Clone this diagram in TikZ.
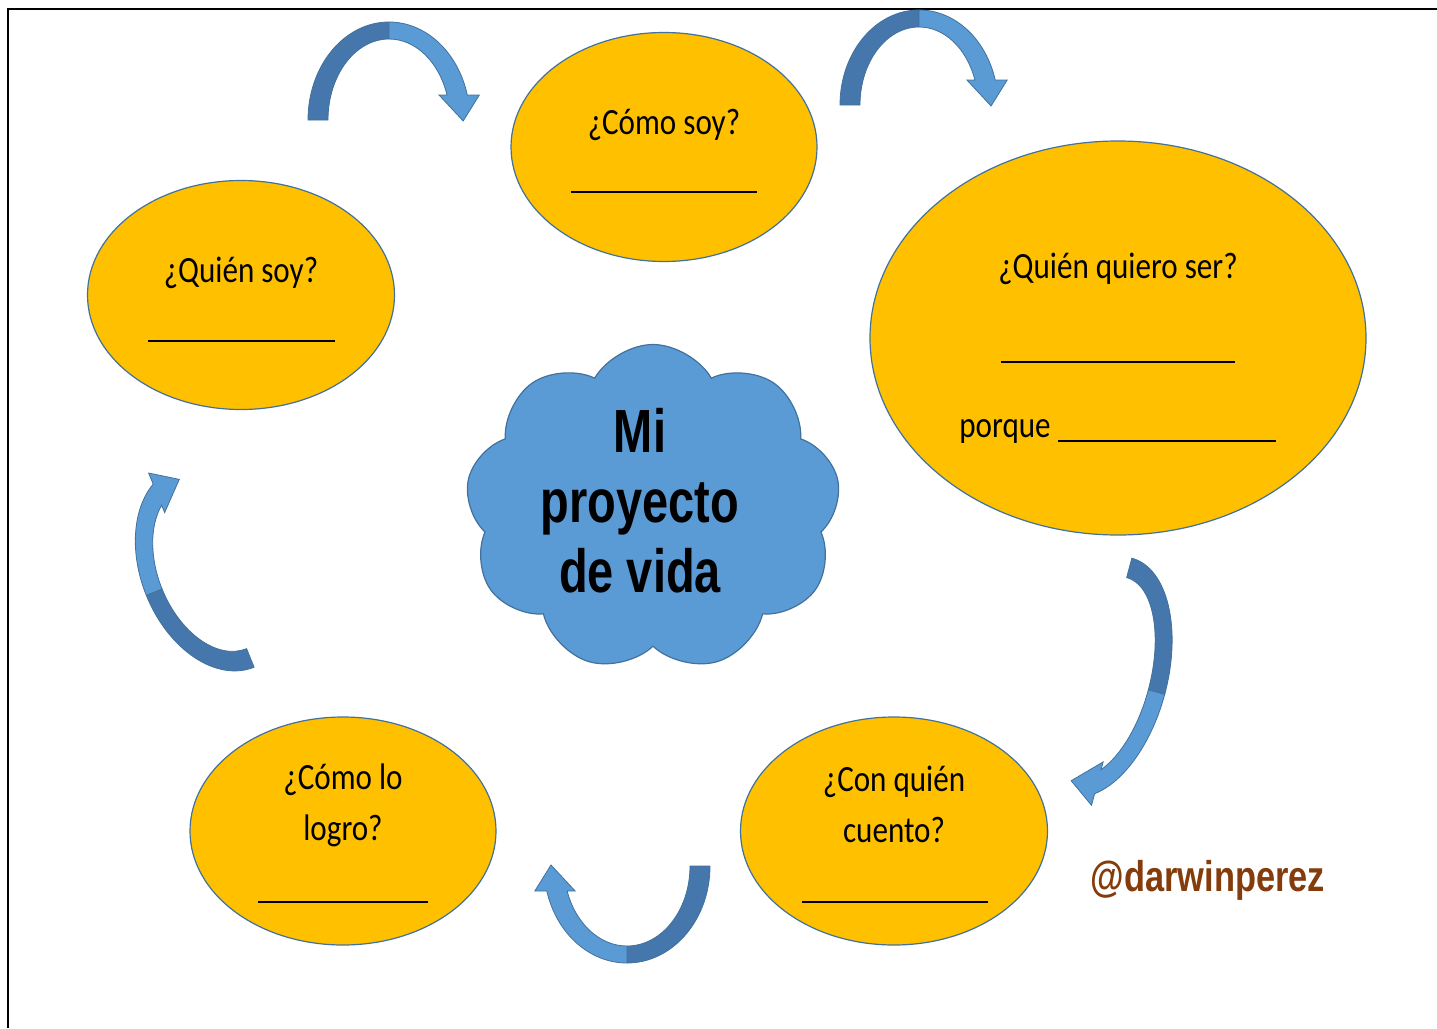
\documentclass[tikz,border=0pt]{standalone}
\usepackage{fontspec}
\usetikzlibrary{shapes,positioning}
\newfontfamily\qfont{Carlito}
\newfontfamily\tfont{Liberation Sans}
\definecolor{gold}{HTML}{FFC000}
\definecolor{skyblue}{HTML}{5B9BD5}
\definecolor{deepblue}{HTML}{41719C}
\definecolor{arrdark}{HTML}{4677AC}
\definecolor{rust}{HTML}{843C0C}
\tikzset{bubble/.style={ellipse,   fill=gold,    draw=deepblue, line width=1.2pt, inner sep=0pt}}
\tikzset{cloudy/.style={cloud,     fill=skyblue, draw=deepblue, line width=1.2pt, inner sep=0pt, cloud puffs=9, cloud puff arc=120, aspect=1.15}}
\tikzset{question/.style={font=\qfont\fontsize{37}{51}\selectfont, align=center, xscale=0.84, transform shape, inner sep=0pt}}
\tikzset{title/.style={font=\tfont\bfseries\fontsize{61}{70}\selectfont, align=center, xscale=0.77, transform shape, inner sep=0pt}}
\tikzset{tag/.style={font=\tfont\bfseries\fontsize{43}{50}\selectfont, text=rust, xscale=0.8, transform shape, inner sep=0pt}}
\tikzset{blank/.style={line width=2.6pt}}
\tikzset{arrlight/.style={fill=skyblue, draw=deepblue, line width=0.8pt}}
\tikzset{arrback/.style={fill=arrdark, draw=deepblue, line width=0.8pt}}
% curved block arrow: centre x, centre y, rotation, x radius, y radius
\newcommand{\bluearrow}[5]{%
  \begin{scope}[shift={(#1,#2)}, rotate=#3]
    \pgfmathsetmacro{\rxa}{#4}
    \pgfmathsetmacro{\rya}{#5}
    \pgfmathsetmacro{\rxb}{#4-20}
    \pgfmathsetmacro{\ryb}{#5-17}
    \pgfmathsetmacro{\ea}{asin(25/#5)}
    \pgfmathsetmacro{\ia}{asin(25/(#5-17))}
    \pgfmathsetmacro{\ox}{#4*cos(\ea)}
    \pgfmathsetmacro{\ix}{(#4-20)*cos(\ia)}
    \filldraw[arrback] (-\rxa,0) arc[start angle=180, end angle=90, x radius=\rxa, y radius=\rya]
      -- (0,\ryb) arc[start angle=90, end angle=180, x radius=\rxb, y radius=\ryb] -- cycle;
    \filldraw[arrlight] (0,\rya) arc[start angle=90, end angle=\ea, x radius=\rxa, y radius=\rya]
      -- (\ox+12,25) -- ({(\ox+\ix)/2+6},-1) -- (\ix-8,25) -- (\ix,25)
      arc[start angle=\ia, end angle=90, x radius=\rxb, y radius=\ryb] -- cycle;
  \end{scope}}
\begin{document}
\begin{tikzpicture}[x=1pt, y=1pt]
    \useasboundingbox (0,0) rectangle (1437,-1028);
    \draw[line width=2.5pt] (8,-1028) -- (8,-9) -- (1437,-9);

    % the five questions
    \node[bubble, minimum width=306pt, minimum height=229pt] (como)   at (664,-147)  {};
    \node[bubble, minimum width=307pt, minimum height=229pt] (quien)  at (241,-295)  {};
    \node[bubble, minimum width=496pt, minimum height=394pt] (quiero) at (1118,-338) {};
    \node[bubble, minimum width=306pt, minimum height=228pt] (logro)  at (343,-831)  {};
    \node[bubble, minimum width=307pt, minimum height=228pt] (cuento) at (894,-831)  {};

    \node[cloudy, minimum width=375pt, minimum height=327pt] (nube) at (653,-508) {};
    \node[title] (mi) at (640,-501) {Mi\\proyecto\\de vida};

    \node[question, anchor=base] (tcomo)   at (664,-134)  {¿Cómo soy?};
    \node[question, anchor=base] (tquien)  at (241,-282)  {¿Quién soy?};
    \node[question, anchor=base] (tquiero) at (1118,-278) {¿Quién quiero ser?};
    \node[question, anchor=base] (porque)  at (1005,-437) {porque};
    \node[question] (tlogro)  at (343,-805) {¿Cómo lo\\logro?};
    \node[question] (tcuento) at (894,-804) {¿Con quién\\cuento?};

    \draw[blank] (571,-192)  -- (757,-192);
    \draw[blank] (148,-341)  -- (335,-341);
    \draw[blank] (1001,-362) -- (1235,-362);
    \draw[blank] (1058,-441) -- (1276,-441);
    \draw[blank] (258,-902)  -- (428,-902);
    \draw[blank] (802,-902)  -- (988,-902);

    % arrows round the cycle
    \bluearrow{389}{-120}{0}{81}{98}
    \bluearrow{919}{-105}{0}{79}{95}
    \bluearrow{1100}{-677}{-105}{123}{67}
    \bluearrow{627}{-866}{180}{83}{97}
    \bluearrow{214}{-568}{112}{107}{73}

    \node[tag] (firma) at (1208,-880) {@darwinperez};
\end{tikzpicture}
\end{document}
